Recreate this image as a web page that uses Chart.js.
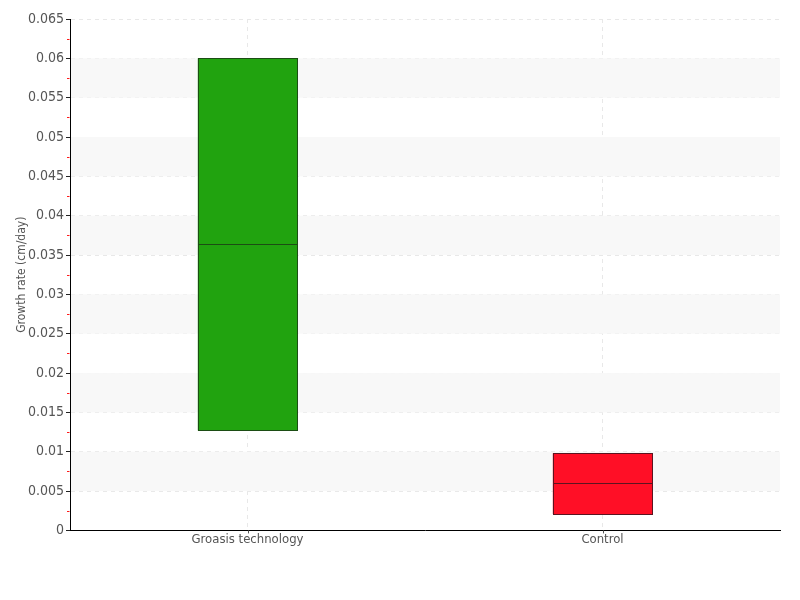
<!DOCTYPE html>
<html>
<head>
<meta charset="utf-8">
<script src="https://cdn.jsdelivr.net/npm/chart.js@4"></script>
<style>
  html, body { margin: 0; padding: 0; background: #fff; }
  #wrap { width: 800px; height: 600px; }
</style>
</head>
<body>
<div id="wrap"><canvas id="chart" width="800" height="600"></canvas></div>
<script>
// box values
const categories = ['Groasis technology', 'Control'];
const lows = [0.0127, 0.0021];
const highs = [0.06, 0.0098];
const medians = [0.0364, 0.006];
const fills = ['#21a30f', '#ff0f26'];
const edges = ['#1c4d14', '#5c1420'];

const FONT = "'DejaVu Sans Condensed', 'DejaVu Sans', sans-serif";

// grey bands every other step + red minor ticks + box outlines and medians
const extras = {
  id: 'extras',
  beforeDatasetsDraw(chart) {
    const ctx = chart.ctx, y = chart.scales.y, area = chart.chartArea;
    ctx.save();
    ctx.fillStyle = '#f8f8f8';
    for (let v = 0.005; v < 0.065; v += 0.01) {
      const top = y.getPixelForValue(v + 0.005), bot = y.getPixelForValue(v);
      ctx.fillRect(area.left + 1, top, area.right - area.left - 1, bot - top);
    }
    ctx.restore();
  },
  afterDatasetsDraw(chart) {
    const ctx = chart.ctx, x = chart.scales.x, y = chart.scales.y, area = chart.chartArea;
    ctx.save();
    ctx.strokeStyle = '#ff1a1a';
    ctx.lineWidth = 1;
    for (let v = 0.0025; v < 0.065; v += 0.005) {
      const py = Math.round(y.getPixelForValue(v)) + 0.5;
      ctx.beginPath();
      ctx.moveTo(area.left - 3, py);
      ctx.lineTo(area.left - 0.5, py);
      ctx.stroke();
    }
    // little category ticks under the x axis
    ctx.strokeStyle = '#555';
    categories.forEach((c, i) => {
      const px = Math.round(x.getPixelForValue(i)) + 0.5;
      ctx.beginPath();
      ctx.moveTo(px, area.bottom);
      ctx.lineTo(px, area.bottom + 3);
      ctx.stroke();
    });
    const meta = chart.getDatasetMeta(0);
    meta.data.forEach((bar, i) => {
      const x0 = Math.round(bar.x - bar.width / 2) + 0.5;
      const x1 = Math.round(bar.x + bar.width / 2) + 0.5;
      const yt = Math.round(y.getPixelForValue(highs[i])) + 0.5;
      const yb = Math.round(y.getPixelForValue(lows[i])) + 0.5;
      const ym = Math.round(y.getPixelForValue(medians[i])) + 0.5;
      ctx.strokeStyle = edges[i];
      ctx.strokeRect(x0, yt, x1 - x0, yb - yt);
      ctx.beginPath();
      ctx.moveTo(x0, ym);
      ctx.lineTo(x1, ym);
      ctx.stroke();
    });
    ctx.restore();
  }
};

new Chart(document.getElementById('chart'), {
  type: 'bar',
  data: {
    labels: categories,
    datasets: [{
      data: categories.map((c, i) => [lows[i], highs[i]]),
      backgroundColor: fills,
      borderWidth: 0,
      barPercentage: 0.28,
      categoryPercentage: 1
    }]
  },
  options: {
    responsive: false,
    animation: false,
    layout: { padding: { top: 19, right: 20, bottom: 52, left: 15 } },
    plugins: { legend: { display: false }, tooltip: { enabled: false } },
    scales: {
      x: {
        grid: { color: '#e8e8e8', drawTicks: false, offset: false },
        border: { color: '#000', width: 1, dash: [4, 4] },
        ticks: { color: '#555', font: { family: FONT, size: 13 }, padding: 1 }
      },
      y: {
        min: 0, max: 0.065,
        afterFit(scale) { scale.width = 55; },
        grid: { color: '#e8e8e8', tickColor: '#222', tickLength: 4 },
        border: { color: '#000', width: 1, dash: [4, 4] },
        ticks: { stepSize: 0.005, color: '#555', font: { family: FONT, size: 14 }, padding: 2,
          callback: v => +v.toFixed(3) },
        title: { display: true, text: 'Growth rate (cm/day)', color: '#555',
          font: { family: FONT, size: 12 }, padding: 0 }
      }
    }
  },
  plugins: [extras]
});
</script>
</body>
</html>
